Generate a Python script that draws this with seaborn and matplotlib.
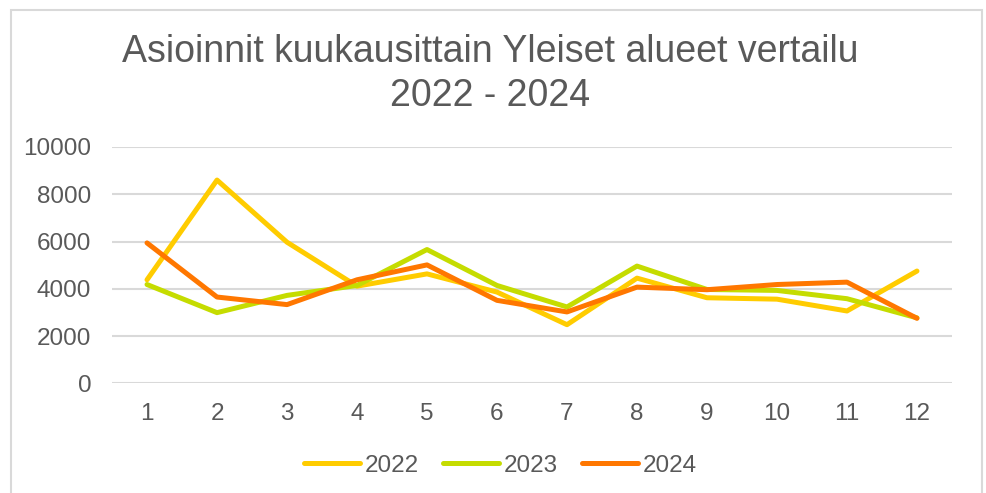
"""Asioinnit kuukausittain - Yleiset alueet vertailu 2022-2024."""

import matplotlib

matplotlib.use("Agg")
import matplotlib.pyplot as plt
import pandas as pd
import seaborn as sns
from matplotlib.patches import Rectangle

months = list(range(1, 13))
v2022 = [4380, 8600, 5970, 4110, 4630, 3860, 2480, 4450, 3620, 3560, 3060, 4750]
v2023 = [4180, 2990, 3720, 4140, 5660, 4140, 3230, 4960, 3970, 3930, 3580, 2770]
v2024 = [5940, 3650, 3330, 4380, 5010, 3510, 3020, 4070, 3960, 4180, 4280, 2750]
years = ["2022", "2023", "2024"]
colors = ["#FFCC00", "#C5DC00", "#FF7700"]

df = pd.DataFrame({"kk": months, "2022": v2022, "2023": v2023, "2024": v2024})
long_df = df.melt(id_vars="kk", var_name="vuosi", value_name="asioinnit")

sns.set_theme(style="white")
plt.rcParams["font.family"] = ["Liberation Sans", "DejaVu Sans"]
text_color = "#595959"
grid_color = "#D9D9D9"

fig = plt.figure(figsize=(9.87, 4.93), dpi=100)
ax = fig.add_axes([0.1135, 0.2225, 0.851, 0.4794])

sns.lineplot(
    data=long_df,
    x="kk",
    y="asioinnit",
    hue="vuosi",
    hue_order=years,
    palette=colors,
    linewidth=3.6,
    ax=ax,
    legend=False,
    solid_capstyle="round",
)

ax.set_xlim(0.5, 12.5)
ax.set_ylim(0, 10000)
ax.set_xticks(months)
ax.set_xticklabels([str(m) for m in months])
ax.set_yticks(range(0, 10001, 2000))
ax.yaxis.grid(True, color=grid_color, linewidth=1.5)
ax.set_axisbelow(True)
for side in ["top", "right", "left", "bottom"]:
    ax.spines[side].set_visible(False)
ax.tick_params(axis="both", length=0, labelsize=17.5, colors=text_color)
ax.tick_params(axis="x", pad=14)
ax.tick_params(axis="y", pad=15)
ax.set_xlabel("")
ax.set_ylabel("")

fig.text(
    0.497,
    0.85,
    "Asioinnit kuukausittain Yleiset alueet vertailu\n2022 - 2024",
    ha="center",
    va="center",
    fontsize=27,
    color=text_color,
    linespacing=1.3,
)

handles = [
    plt.Line2D([0], [0], color=c, linewidth=3.6, solid_capstyle="round")
    for c in colors
]
fig.legend(
    handles,
    years,
    loc="center",
    bbox_to_anchor=(0.507, 0.055),
    ncol=3,
    frameon=False,
    fontsize=17.5,
    labelcolor=text_color,
    handlelength=2.3,
    handletextpad=0.2,
    columnspacing=1.0,
)

# chart border like the original Excel frame
fig.patches.append(
    Rectangle(
        (11 / 987, -0.05),
        971 / 987,
        1.05 - 10 / 493,
        transform=fig.transFigure,
        fill=False,
        edgecolor=grid_color,
        linewidth=1.5,
    )
)

fig.savefig("out.png", dpi=100)
plt.close(fig)
